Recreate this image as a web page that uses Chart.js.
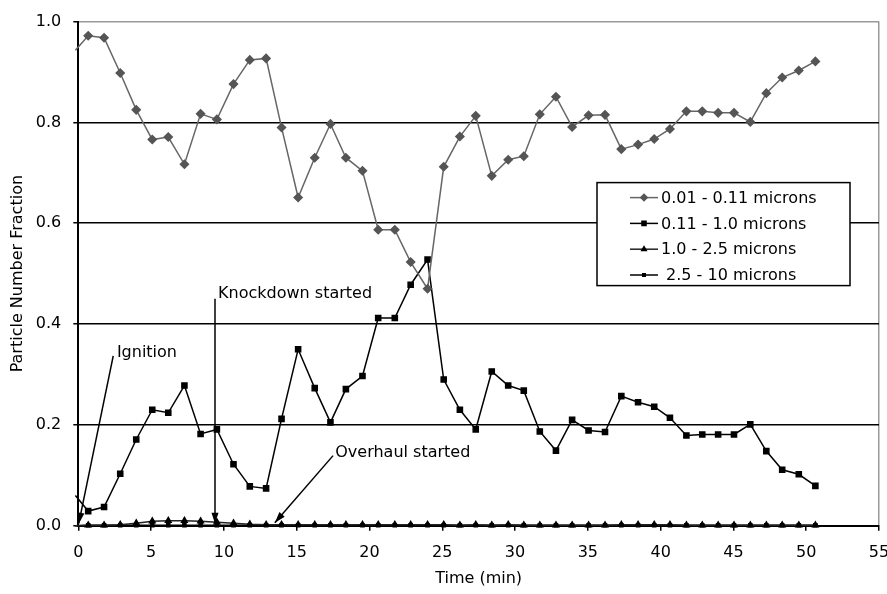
<!DOCTYPE html>
<html><head><meta charset="utf-8">
<script src="https://cdn.jsdelivr.net/npm/chart.js@4.4.0/dist/chart.umd.min.js"></script>
<style>html,body{margin:0;padding:0;background:#fff}</style>
</head><body>
<canvas id="c" width="887" height="594"></canvas>
<script>
// ---- data ----
const times = [-0.2, 0.68, 1.77, 2.88, 3.98, 5.08, 6.18, 7.29, 8.4, 9.52, 10.66, 11.78, 12.9, 13.96, 15.1, 16.24, 17.32, 18.38, 19.52, 20.6, 21.74, 22.83, 23.99, 25.1, 26.21, 27.3, 28.4, 29.53, 30.6, 31.7, 32.81, 33.92, 35.05, 36.18, 37.3, 38.45, 39.56, 40.64, 41.77, 42.86, 43.95, 45.04, 46.16, 47.26, 48.35, 49.49, 50.63];
const ultrafine = [0.943, 0.972, 0.968, 0.898, 0.825, 0.766, 0.771, 0.717, 0.817, 0.806, 0.876, 0.924, 0.927, 0.790, 0.651, 0.730, 0.797, 0.730, 0.704, 0.587, 0.587, 0.523, 0.470, 0.712, 0.772, 0.813, 0.694, 0.726, 0.733, 0.816, 0.851, 0.791, 0.814, 0.815, 0.747, 0.756, 0.767, 0.787, 0.822, 0.822, 0.819, 0.819, 0.801, 0.858, 0.889, 0.903, 0.921];
const fine = [0.060, 0.029, 0.037, 0.103, 0.171, 0.230, 0.224, 0.278, 0.182, 0.191, 0.122, 0.078, 0.074, 0.212, 0.350, 0.273, 0.205, 0.271, 0.297, 0.412, 0.412, 0.478, 0.528, 0.290, 0.230, 0.191, 0.306, 0.278, 0.268, 0.187, 0.149, 0.210, 0.189, 0.186, 0.257, 0.245, 0.236, 0.214, 0.179, 0.181, 0.181, 0.181, 0.201, 0.148, 0.111, 0.102, 0.079];
const coarse = [0.000, 0.001, 0.001, 0.002, 0.005, 0.009, 0.010, 0.010, 0.009, 0.007, 0.005, 0.003, 0.002, 0.002, 0.002, 0.002, 0.002, 0.002, 0.002, 0.002, 0.002, 0.002, 0.002, 0.002, 0.001, 0.002, 0.001, 0.002, 0.001, 0.001, 0.001, 0.001, 0.001, 0.001, 0.002, 0.002, 0.002, 0.002, 0.001, 0.001, 0.001, 0.001, 0.001, 0.001, 0.001, 0.001, 0.001];
const largest = [0.000, 0.001, 0.001, 0.001, 0.001, 0.001, 0.001, 0.001, 0.001, 0.001, 0.001, 0.001, 0.001, 0.001, 0.001, 0.001, 0.001, 0.001, 0.001, 0.001, 0.001, 0.001, 0.001, 0.001, 0.001, 0.001, 0.001, 0.001, 0.001, 0.001, 0.001, 0.001, 0.001, 0.001, 0.001, 0.001, 0.001, 0.001, 0.001, 0.001, 0.001, 0.001, 0.001, 0.001, 0.001, 0.001, 0.001];
const seriesNames = ['0.01 - 0.11 microns', '0.11 - 1.0 microns', '1.0 - 2.5 microns', ' 2.5 - 10 microns'];
const xTicks = [0, 5, 10, 15, 20, 25, 30, 35, 40, 45, 50, 55];
const yTicks = [0, 0.2, 0.4, 0.6, 0.8, 1.0];
const notes = [
  {text: 'Ignition', tx: 2.65, ty: 0.343, from: [2.4, 0.337], to: [0.03, 0.004]},
  {text: 'Knockdown started', tx: 9.6, ty: 0.459, from: [9.39, 0.45], to: [9.39, 0.004]},
  {text: 'Overhaul started', tx: 17.65, ty: 0.145, from: [17.5, 0.139], to: [13.5, 0.006]}
];

const FONT = '"DejaVu Sans", sans-serif';
const toPts = arr => arr.map((v, i) => ({x: times[i], y: v}));
const hideFirst = r => (ctx => ctx.dataIndex === 0 ? 0 : r);

const datasets = [
  {label: seriesNames[0], data: toPts(ultrafine), borderColor: '#666', backgroundColor: '#555', pointBorderColor: '#555',
   borderWidth: 1.5, pointStyle: 'rectRot', pointRadius: hideFirst(4), clip: false},
  {label: seriesNames[1], data: toPts(fine), borderColor: '#000', backgroundColor: '#000', pointBorderColor: '#000',
   borderWidth: 1.5, pointStyle: 'rect', pointRadius: hideFirst(3.6), clip: false},
  {label: seriesNames[2], data: toPts(coarse), borderColor: '#222', backgroundColor: '#000', pointBorderColor: '#000',
   borderWidth: 1.5, pointStyle: 'triangle', pointRadius: hideFirst(3.2), clip: false},
  {label: seriesNames[3], data: toPts(largest), borderColor: '#000', backgroundColor: '#000', pointBorderColor: '#000',
   borderWidth: 1.5, pointStyle: 'rect', pointRadius: hideFirst(2.2), clip: false}
];

const overlay = {
  id: 'overlay',
  afterDatasetsDraw(chart) {
    const {ctx, scales: {x, y}, chartArea: ca} = chart;
    ctx.save();
    ctx.strokeStyle = '#000'; ctx.fillStyle = '#000'; ctx.lineWidth = 1.5;
    ctx.font = '16px ' + FONT; ctx.textBaseline = 'middle'; ctx.textAlign = 'left';
    notes.forEach(n => {
      const x1 = x.getPixelForValue(n.from[0]), y1 = y.getPixelForValue(n.from[1]);
      const x2 = x.getPixelForValue(n.to[0]), y2 = y.getPixelForValue(n.to[1]);
      ctx.beginPath(); ctx.moveTo(x1, y1); ctx.lineTo(x2, y2); ctx.stroke();
      const a = Math.atan2(y2 - y1, x2 - x1), L = 11, W = 3.5;
      ctx.beginPath(); ctx.moveTo(x2, y2);
      ctx.lineTo(x2 - L * Math.cos(a) + W * Math.sin(a), y2 - L * Math.sin(a) - W * Math.cos(a));
      ctx.lineTo(x2 - L * Math.cos(a) - W * Math.sin(a), y2 - L * Math.sin(a) + W * Math.cos(a));
      ctx.closePath(); ctx.fill();
      ctx.fillText(n.text, x.getPixelForValue(n.tx), y.getPixelForValue(n.ty));
    });
    // legend box
    const lx = ca.right - 282, ly = ca.top + 161, lw = 253, lh = 103;
    ctx.fillStyle = '#fff'; ctx.fillRect(lx, ly, lw, lh);
    ctx.strokeStyle = '#000'; ctx.lineWidth = 1.5; ctx.strokeRect(lx, ly, lw, lh);
    chart.data.datasets.forEach((ds, i) => {
      const cy = ly + 15 + i * 25.8;
      ctx.strokeStyle = ds.borderColor; ctx.lineWidth = 1.5;
      ctx.beginPath(); ctx.moveTo(lx + 33, cy); ctx.lineTo(lx + 61, cy); ctx.stroke();
      const r = typeof ds.pointRadius === 'function' ? ds.pointRadius({dataIndex: 1}) : ds.pointRadius;
      ctx.fillStyle = ds.backgroundColor; ctx.strokeStyle = ds.pointBorderColor;
      Chart.helpers.drawPoint(ctx, {pointStyle: ds.pointStyle, radius: r * 0.8, rotation: 0, borderWidth: 1}, lx + 47, cy);
      ctx.fillStyle = '#000';
      ctx.fillText(ds.label, lx + 64, cy + 1);
    });
    ctx.restore();
  }
};

new Chart(document.getElementById('c'), {
  type: 'line',
  data: {datasets},
  options: {
    responsive: false, animation: false, devicePixelRatio: 1,
    layout: {padding: {top: 19, right: 8, left: 0, bottom: 0}},
    elements: {line: {tension: 0}},
    plugins: {legend: {display: false}, tooltip: {enabled: false}},
    scales: {
      x: {
        type: 'linear', min: 0, max: 55,
        afterBuildTicks: s => { s.ticks = xTicks.map(v => ({value: v})); },
        afterFit: s => { s.height = 68.3; s.paddingLeft = 0; s.paddingRight = 0; },
        ticks: {color: '#000', font: {family: FONT, size: 16}, padding: 13, maxRotation: 0, autoSkip: false},
        grid: {color: c => (c.tick && c.tick.value === 55) ? '#999' : 'rgba(0,0,0,0)', lineWidth: 1.5,
               tickColor: '#000', tickLength: 5, drawTicks: true},
        border: {display: true, color: '#000', width: 2},
        title: {display: true, text: 'Time (min)', color: '#000', font: {family: FONT, size: 16}, padding: {top: 0, bottom: 6}}
      },
      y: {
        min: 0, max: 1,
        afterBuildTicks: s => { s.ticks = yTicks.map(v => ({value: v})); },
        afterFit: s => { s.width = 78.3; },
        ticks: {color: '#000', font: {family: FONT, size: 16}, padding: 12, callback: v => Number(v).toFixed(1)},
        grid: {color: c => (c.tick && c.tick.value === 1) ? '#999' : '#000', lineWidth: 1.5, tickColor: '#000', tickLength: 5},
        border: {display: true, color: '#000', width: 2},
        title: {display: true, text: 'Particle Number Fraction', color: '#000', font: {family: FONT, size: 16}, padding: {top: 8, bottom: 0}}
      }
    }
  },
  plugins: [overlay]
});
</script>
</body></html>
